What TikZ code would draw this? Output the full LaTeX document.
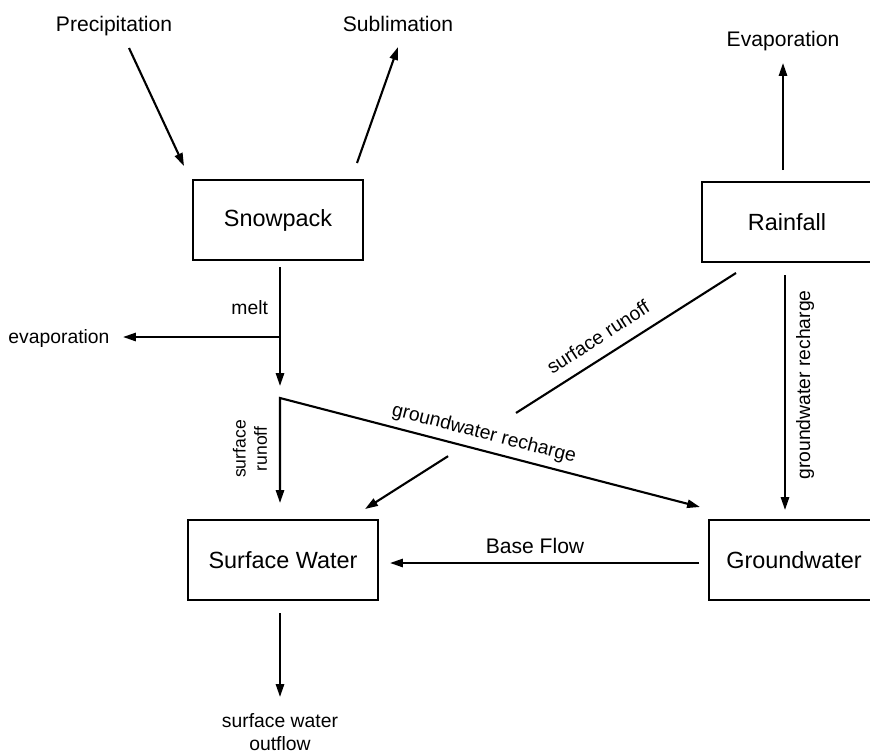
\documentclass[tikz,border=0pt]{standalone}
\usepackage{fontspec}
\setmainfont{Liberation Sans}
\usetikzlibrary{arrows.meta,calc}

\tikzset{
  flowtip/.tip={Triangle[length=11pt,width=7pt]},
  box/.style={draw, line width=2.5pt, minimum width=5.1cm, minimum height=2.4cm,
    inner sep=0pt, font=\fontsize{20}{24}\selectfont},
  flow/.style={line width=1.8pt, -flowtip},
  plain/.style={line width=1.8pt},
  big/.style={font=\fontsize{18}{22}\selectfont},
  small/.style={font=\fontsize{16.5}{19}\selectfont},
}

\begin{document}
\begin{tikzpicture}[x=0.03cm, y=-0.03cm]
 \path[use as bounding box, clip] (0,0) rectangle (870,753);

 % boxes
 \node[box] (snow) at (278,220) {Snowpack};
 \node[box] (rain) at (787,222) {Rainfall};
 \node[box, minimum width=5.7cm] (sw) at (283,560) {Surface Water};
 \node[box] (gw) at (794,560) {Groundwater};

 % outer texts
 \node[big, anchor=base] (precip) at (114,31) {Precipitation};
 \node[big, anchor=base] (subl) at (398,31) {Sublimation};
 \node[big, anchor=base] (evap) at (783,46) {Evaporation};
 \node[small, anchor=base] (evapl) at (59,343) {evaporation};
 \node[small, align=center, inner sep=0pt] (outflow) at (280,732) {surface water\\outflow};

 % arrow ends
 \coordinate (P1) at (129,48);
 \coordinate (P2) at (184,166);
 \coordinate (S1) at (357,163);
 \coordinate (S2) at (398,47);
 \coordinate (E1) at (783,170);
 \coordinate (E2) at (783,63);
 \coordinate (M1) at (280,267);
 \coordinate (M2) at (280,386);
 \coordinate (Mid) at (280,337);
 \coordinate (L) at (123,337);
 \coordinate (split) at (280,398);
 \coordinate (swtop) at (280,503);
 \coordinate (gwtip) at (700,507);
 \coordinate (R1) at (785,275);
 \coordinate (R2) at (785,510);
 \coordinate (B1) at (699,563);
 \coordinate (B2) at (390,563);
 \coordinate (rr1) at (736,273);
 \coordinate (rr2) at (365,509);
 \coordinate (O1) at (280,613);
 \coordinate (O2) at (280,697);

 \draw[flow] (P1) -- (P2);
 \draw[flow] (S1) -- (S2);
 \draw[flow] (E1) -- (E2);

 \draw[flow] (M1) -- (M2) node[pos=0.4, small, anchor=base east, xshift=-6pt] (melt) {melt};
 \draw[flow] (Mid) -- (L);

 \draw[flow, flowtip-flowtip] (swtop) -- (split) -- (gwtip);
 \node[font=\fontsize{15}{18}\selectfont, align=center, rotate=90] (swrunoff) at (250,449) {surface\\runoff};
 \node[small, rotate=-14.5] (gwrech) at (484,434) {groundwater recharge};

 \draw[plain] (rr1) -- ($(rr1)!0.593!(rr2)$);
 \draw[flow] ($(rr1)!0.776!(rr2)$) -- (rr2);
 \node[small, rotate=33] (rainrunoff) at (598,337) {surface runoff};

 \draw[flow] (R1) -- (R2);
 \node[small, rotate=90] (rainrech) at (805,385) {groundwater recharge};

 \draw[flow] (B1) -- (B2);
 \node[big, anchor=base] (base) at (535,553) {Base Flow};

 \draw[flow] (O1) -- (O2);
\end{tikzpicture}
\end{document}
